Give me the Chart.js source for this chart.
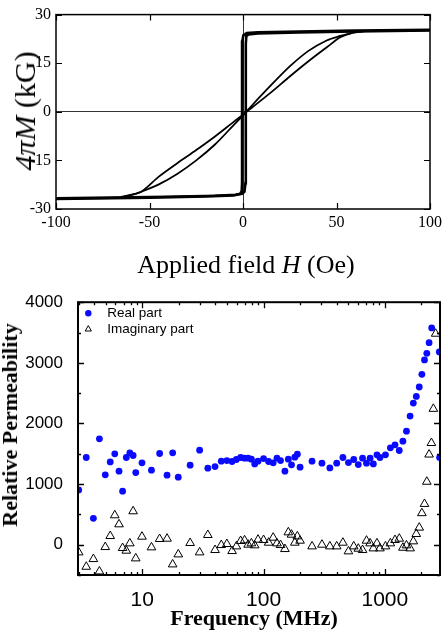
<!DOCTYPE html>
<html>
<head>
<meta charset="utf-8">
<script src="https://cdn.jsdelivr.net/npm/chart.js@4.4.0/dist/chart.umd.min.js"></script>
<style>
  body { margin: 0; background: #fff; }
  #wrap { position: relative; width: 446px; height: 632px; overflow: hidden; }
  canvas { position: absolute; left: 0; }
  #loopChart { top: 0; }
  #permChart { top: 285px; }
  .lbl { position: absolute; white-space: nowrap; line-height: 1; color: #000; transform: translate(-50%, -50%); font-family: 'Liberation Serif', 'Times New Roman', serif; }
  .rot { transform: translate(-50%, -50%) rotate(-90deg); }
</style>
</head>
<body>
<div id="wrap">
  <canvas id="loopChart" width="446" height="285"></canvas>
  <canvas id="permChart" width="446" height="347"></canvas>
  <div class="lbl rot" style="left:25px; top:111px; font-size:30px;"><i>4πM</i> (kG)</div>
  <div class="lbl" style="left:246px; top:265px; font-size:26px;">Applied field <i>H</i> (Oe)</div>
  <div class="lbl rot" style="left:10px; top:425px; font-size:22px; font-weight:bold;">Relative Permeability</div>
  <div class="lbl" style="left:254px; top:618px; font-size:22px; font-weight:bold;">Frequency (MHz)</div>
</div>
<script>
// hysteresis loop (H in Oe, 4piM in kG)
const loopHTicks = [-100, -50, 0, 50, 100];
const loopMTicks = [-30, -15, 0, 15, 30];

// square loop, ascending branch
const squareUpH = [-100, -70, -40, -15, -4, -0.5, 0.8, 1.3, 1.5, 1.5, 1.8, 3, 8, 30, 60, 100];
const squareUpM = [-26.7, -26.5, -26.2, -25.9, -25.6, -25.3, -24.6, -22, 0, 21, 23.4, 23.9, 24.2, 24.5, 24.8, 25.1];
// square loop, descending branch
const squareDownH = [100, 60, 30, 8, 2, 0.2, -0.3, -0.5, -0.5, -0.7, -1.5, -5, -20, -50, -100];
const squareDownM = [25.3, 25.1, 24.8, 24.5, 24.3, 23.6, 22, 0, -22, -24.5, -25.3, -25.8, -26.1, -26.5, -26.9];
// sheared inner loop, two branches
const shearAH = [-65, -59, -54, -45, -35, -25, -15, -5, 0, 5, 15, 25, 35, 45, 52, 58, 65];
const shearAM = [-26.2, -25.5, -24.5, -20.0, -15.8, -11.8, -7.6, -3.1, -0.9, 1.4, 6.0, 10.9, 15.6, 20.0, 23.0, 24.3, 24.9];
const shearBH = [-65, -59, -54, -45, -35, -25, -15, -5, 0, 5, 15, 25, 35, 45, 52, 58, 65];
const shearBM = [-26.3, -25.6, -24.6, -22.4, -19.1, -15.0, -10.1, -4.1, -1.1, 2.1, 8.2, 14.0, 18.8, 22.1, 23.4, 24.3, 24.9];

// permeability spectrum
const freqTicks = [10, 100, 1000];
const permTicks = [0, 1000, 2000, 3000, 4000];

const realFreq = [2.99, 3.45, 3.95, 4.43, 4.95, 5.44, 5.93, 6.43, 6.88, 7.38, 7.89, 8.40, 8.83, 9.94,
  11.9, 13.9, 16.0, 17.8, 19.8, 24.8, 29.7, 34.7, 39.8, 44.8, 49.8, 55.0, 59.7, 64.7, 69.7, 74.6,
  79.4, 84.5, 90, 100, 110, 120, 129, 138, 150, 160, 170, 181, 190, 200, 251, 303, 352, 401, 451,
  501, 554, 604, 655, 706, 756, 804, 861, 911, 1012, 1111, 1213, 1315, 1409, 1508, 1615, 1718,
  1817, 1922, 2020, 2123, 2219, 2317, 2434, 2812, 2826];
const realPerm = [904, 1438, 435, 1747, 1152, 1366, 1499, 1212, 882, 1438, 1515, 1471, 1190, 1350,
  1229, 1504, 1146, 1515, 1113, 1311, 1559, 1262, 1289, 1377, 1388, 1372, 1405, 1438, 1427, 1427,
  1410, 1333, 1377, 1421, 1372, 1350, 1427, 1388, 1212, 1410, 1317, 1443, 1493, 1278, 1377, 1344,
  1267, 1344, 1438, 1355, 1405, 1322, 1427, 1344, 1427, 1333, 1482, 1438, 1482, 1598, 1647, 1554,
  1708, 1873, 2121, 2336, 2446, 2601, 2810, 3047, 3157, 3333, 3576, 3180, 1440];

const imagFreq = [2.99, 3.45, 3.95, 4.43, 4.95, 5.44, 5.93, 6.43, 6.88, 7.38, 7.89, 8.40, 8.83, 9.94,
  11.9, 13.9, 16.0, 17.8, 19.8, 24.8, 29.7, 34.7, 39.8, 44.8, 49.8, 55.0, 59.7, 64.7, 69.7, 74.6,
  79.4, 84.5, 90, 100, 110, 120, 129, 138, 150, 160, 170, 181, 190, 200, 251, 303, 352, 401, 451,
  501, 554, 604, 655, 706, 756, 804, 861, 911, 1012, 1111, 1213, 1315, 1409, 1508, 1615, 1718,
  1817, 1922, 2020, 2123, 2219, 2317, 2421, 2512, 2625];
const imagPerm = [-127, -364, -237, -441, -39, 143, 485, 336, -55, -99, 22, 551, -226, 132,
  -44, 94, 99, -325, -160, 28, -127, 160, -88, -6, 11, -105, -28, 61, 72, 0,
  22, -11, 83, 77, 33, 116, 22, -6, -72, 204, 165, 33, 138, 66, -28, 0, -28, -28, 33,
  -110, -28, -66, -88, 66, 22, -61, 22, -61, -28, 22, 77, 99, -50, -11, -61, 55,
  176, 281, 520, 672, 1038, 1487, 1677, 2241, 3480];

function pts(xs, ys) {
  return xs.map((v, i) => ({x: v, y: ys[i]}));
}

// frame and inward ticks on all four sides
const frameTicks = {
  id: 'frameTicks',
  afterDatasetsDraw(chart, args, o) {
    const {ctx, chartArea: a, scales: {x, y}} = chart;
    ctx.save();
    ctx.strokeStyle = '#000';
    ctx.lineWidth = o.frame;
    ctx.strokeRect(a.left, a.top, a.right - a.left, a.bottom - a.top);
    ctx.lineWidth = o.tickWidth;
    ctx.beginPath();
    let xt = (vals, len) => vals.forEach(v => {
      let p = Math.round(x.getPixelForValue(v)) + 0.5;
      ctx.moveTo(p, a.bottom); ctx.lineTo(p, a.bottom - len);
      ctx.moveTo(p, a.top); ctx.lineTo(p, a.top + len);
    });
    let yt = (vals, len) => vals.forEach(v => {
      let p = Math.round(y.getPixelForValue(v)) + 0.5;
      ctx.moveTo(a.left, p); ctx.lineTo(a.left + len, p);
      ctx.moveTo(a.right, p); ctx.lineTo(a.right - len, p);
    });
    xt(o.xMajor, o.major);
    xt(o.xMinor || [], o.minor);
    yt(o.yMajor, o.major);
    yt(o.yMinor || [], o.minor);
    ctx.stroke();
    ctx.restore();
  }
};

// small legend inside the plot area
const innerLegend = {
  id: 'innerLegend',
  afterDraw(chart, args, o) {
    if (!o.items) return;
    const {ctx, chartArea: a} = chart;
    ctx.save();
    ctx.font = o.font;
    ctx.textBaseline = 'middle';
    o.items.forEach((idx, i) => {
      let ds = chart.data.datasets[idx];
      let yy = a.top + o.top + i * o.gap;
      ctx.fillStyle = ds.backgroundColor;
      ctx.strokeStyle = ds.borderColor;
      ctx.lineWidth = ds.borderWidth;
      Chart.helpers.drawPoint(ctx, {pointStyle: ds.pointStyle, radius: o.radius[i], borderWidth: ds.borderWidth, rotation: 0}, a.left + o.markX, yy);
      ctx.fillStyle = '#000';
      ctx.fillText(ds.label, a.left + o.textX, yy);
    });
    ctx.restore();
  }
};

let serif = "'Liberation Serif', 'Times New Roman', serif";
let sans = "'Liberation Sans', Arial, sans-serif";

function zeroLine(c) {
  return c.tick && c.tick.value === 0 ? '#333' : 'rgba(0,0,0,0)';
}

let loopLine = {showLine: true, pointRadius: 0, borderColor: '#000', fill: false};

new Chart(document.getElementById('loopChart').getContext('2d'), {
  type: 'scatter',
  data: {
    datasets: [
      Object.assign({data: pts(squareUpH, squareUpM), borderWidth: 2.6, tension: 0}, loopLine),
      Object.assign({data: pts(squareDownH, squareDownM), borderWidth: 2.6, tension: 0}, loopLine),
      Object.assign({data: pts(shearAH, shearAM), borderWidth: 1.8, tension: 0.3}, loopLine),
      Object.assign({data: pts(shearBH, shearBM), borderWidth: 1.8, tension: 0.3}, loopLine)
    ]
  },
  options: {
    responsive: false,
    animation: false,
    layout: {padding: {top: 14, right: 13, left: 0, bottom: 0}},
    plugins: {
      legend: {display: false},
      tooltip: {enabled: false},
      frameTicks: {frame: 1.5, tickWidth: 1.2, major: 6, xMajor: loopHTicks, yMajor: loopMTicks}
    },
    scales: {
      x: {
        type: 'linear', min: -100, max: 100,
        afterBuildTicks: s => { s.ticks = loopHTicks.map(v => ({value: v})); },
        afterFit: s => { s.height = 76; },
        grid: {drawTicks: false, color: zeroLine, lineWidth: 1},
        border: {display: false},
        ticks: {padding: 4, color: '#000', maxRotation: 0, autoSkip: false,
          callback: v => String(v), font: {family: serif, size: 16}}
      },
      y: {
        type: 'linear', min: -30, max: 30,
        afterBuildTicks: s => { s.ticks = loopMTicks.map(v => ({value: v})); },
        afterFit: s => { s.width = 56; },
        grid: {drawTicks: false, color: zeroLine, lineWidth: 1},
        border: {display: false},
        ticks: {padding: 5, color: '#000', autoSkip: false,
          callback: v => String(v), font: {family: serif, size: 16}}
      }
    }
  },
  plugins: [frameTicks]
});

// minor tick positions: 2..9 within each decade, 500 steps on y
let freqMinor = [];
[1, 10, 100, 1000].forEach(d => {
  for (let m = 2; m <= 9; m++) freqMinor.push(m * d);
});
freqMinor = freqMinor.filter(v => v >= 3 && v <= 2850 && !freqTicks.includes(v));
let permMinor = [-500, 500, 1500, 2500, 3500];

new Chart(document.getElementById('permChart').getContext('2d'), {
  type: 'scatter',
  data: {
    datasets: [
      {
        label: 'Real part',
        data: pts(realFreq, realPerm),
        pointStyle: 'circle',
        pointRadius: 3.4,
        backgroundColor: '#0a0aff',
        borderColor: '#0a0aff',
        borderWidth: 0,
        order: 1
      },
      {
        label: 'Imaginary part',
        data: pts(imagFreq, imagPerm),
        pointStyle: 'triangle',
        pointRadius: 5,
        backgroundColor: 'rgba(255,255,255,0)',
        borderColor: '#000',
        borderWidth: 1,
        order: 0
      }
    ]
  },
  options: {
    responsive: false,
    animation: false,
    layout: {padding: {top: 16, right: 0, left: 0, bottom: 0}},
    plugins: {
      legend: {display: false},
      tooltip: {enabled: false},
      frameTicks: {frame: 2, tickWidth: 1.3, major: 6, minor: 3,
        xMajor: freqTicks, xMinor: freqMinor, yMajor: permTicks, yMinor: permMinor},
      innerLegend: {items: [0, 1], font: '13.5px ' + sans, top: 11, gap: 16, markX: 10.3, textX: 29.3, radius: [3.2, 3.6]}
    },
    scales: {
      x: {
        type: 'logarithmic', min: 2.95, max: 2850,
        afterBuildTicks: s => { s.ticks = freqTicks.map(v => ({value: v})); },
        afterFit: s => { s.height = 57; },
        grid: {display: false},
        border: {display: false},
        ticks: {padding: 5, color: '#000', maxRotation: 0, autoSkip: false,
          callback: v => String(v), font: {family: sans, size: 21}}
      },
      y: {
        type: 'linear', min: -500, max: 4000,
        afterBuildTicks: s => { s.ticks = permTicks.map(v => ({value: v})); },
        afterFit: s => { s.width = 78; },
        grid: {display: false},
        border: {display: false},
        ticks: {padding: 7, color: '#000', autoSkip: false,
          callback: v => String(v), font: {family: sans, size: 17}}
      }
    }
  },
  plugins: [frameTicks, innerLegend]
});
</script>
</body>
</html>
